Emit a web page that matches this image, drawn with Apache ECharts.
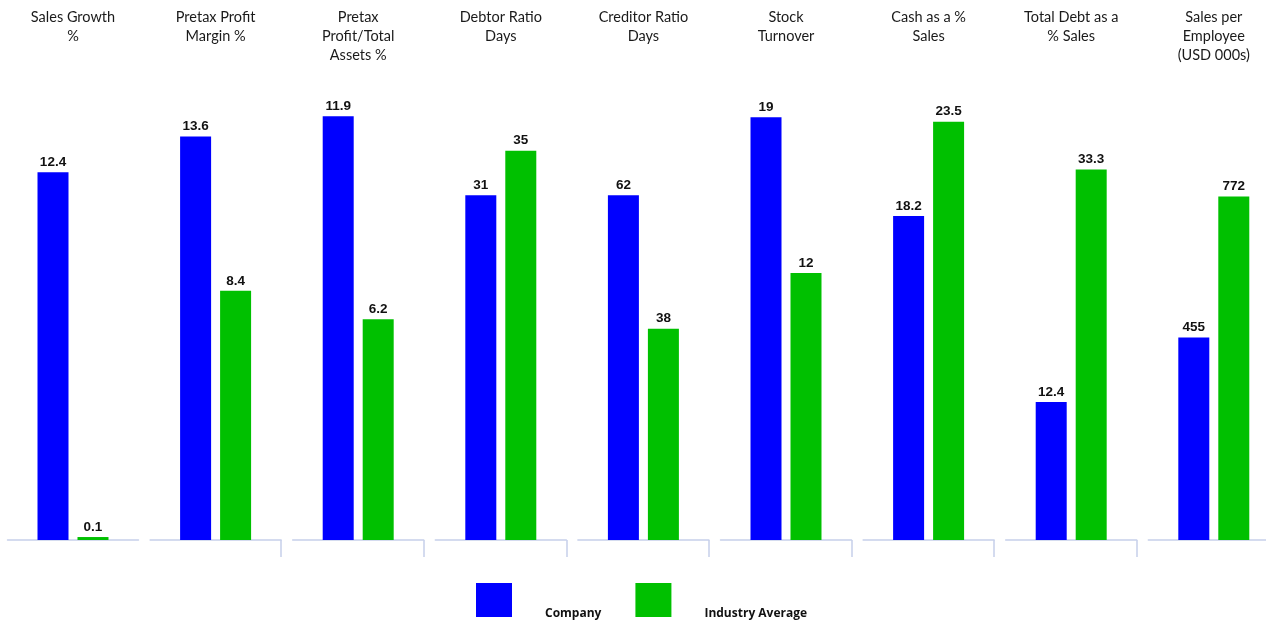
<!DOCTYPE html>
<html>
<head>
<meta charset="utf-8">
<script src="https://cdn.jsdelivr.net/npm/echarts@6/dist/echarts.min.js"></script>
<style>
html,body{margin:0;padding:0;background:#fff;}
#chart{width:1266px;height:622px;}
</style>
</head>
<body>
<div id="chart"></div>
<script>
const metrics = [
  "Sales Growth\n%",
  "Pretax Profit\nMargin %",
  "Pretax\nProfit/Total\nAssets %",
  "Debtor Ratio\nDays",
  "Creditor Ratio\nDays",
  "Stock\nTurnover",
  "Cash as a %\nSales",
  "Total Debt as a\n% Sales",
  "Sales per\nEmployee\n(USD 000s)"
];
const company = [12.4, 13.6, 11.9, 31, 62, 19, 18.2, 12.4, 455];
const industry = [0.1, 8.4, 6.2, 35, 38, 12, 23.5, 33.3, 772];
const axisMax = [15, 15, 12.5, 40, 80, 20, 25, 40, 1000];
const seriesNames = ["Company", "Industry Average"];

const chart = echarts.init(document.getElementById('chart'));
const step = 142.6, startX = 7.5, panelW = 131;
const grids = [], xAxes = [], yAxes = [], series = [], titles = [];
const lineColor = '#c6d0ea';
const labelStyle = {
  show: true, position: 'top', distance: 3,
  fontFamily: 'Liberation Sans, Arial, sans-serif', fontWeight: 'bold',
  fontSize: 13.5, color: '#111'
};
metrics.forEach((m, i) => {
  const left = startX + i * step;
  grids.push({left: left, width: panelW, top: 95, bottom: 82, containLabel: false, outerBoundsMode: 'none'});
  titles.push({
    text: m, left: left + panelW / 2, top: 8, textAlign: 'center', padding: 0,
    textStyle: {fontFamily: 'Lato, Open Sans, sans-serif', fontWeight: 'normal', fontSize: 14.5, lineHeight: 19, color: '#1a1a1a'}
  });
  xAxes.push({
    type: 'category', gridIndex: i, data: [m],
    axisLine: {show: true, lineStyle: {color: lineColor, width: 1.5}},
    axisTick: {show: false}, axisLabel: {show: false}
  });
  xAxes.push({
    type: 'value', gridIndex: i, min: 0, max: 1, position: 'bottom',
    axisLine: {show: false},
    axisTick: {show: i >= 1 && i <= 7, length: 17, customValues: [1], lineStyle: {color: lineColor, width: 1.5}},
    axisLabel: {show: false}, splitLine: {show: false}
  });
  yAxes.push({
    type: 'value', gridIndex: i, min: 0, max: axisMax[i], show: false, splitLine: {show: false}
  });
  series.push({
    name: seriesNames[0], type: 'bar', xAxisIndex: i * 2, yAxisIndex: i,
    data: [company[i]], barWidth: 31, barGap: '29%',
    itemStyle: {color: '#0000ff'}, label: labelStyle
  });
  series.push({
    name: seriesNames[1], type: 'bar', xAxisIndex: i * 2, yAxisIndex: i,
    data: [industry[i]], barWidth: 31, barGap: '29%',
    itemStyle: {color: '#00c000'}, label: labelStyle
  });
});

chart.setOption({
  animation: false,
  title: titles,
  grid: grids,
  xAxis: xAxes,
  yAxis: yAxes,
  legend: {
    data: seriesNames, left: 476, top: 583, padding: 0, itemWidth: 36, itemHeight: 34, itemGap: 34,
    icon: 'rect', selectedMode: false,
    formatter: function (name) { return '{s| }\n{a|' + name + '}'; },
    textStyle: {
      padding: [0, 0, 0, 28],
      rich: {
        s: {fontSize: 2, lineHeight: 28},
        a: {fontFamily: 'Open Sans, sans-serif', fontWeight: 'bold', fontSize: 12, lineHeight: 17, color: '#111'}
      }
    }
  },
  series: series
});
</script>
</body>
</html>
